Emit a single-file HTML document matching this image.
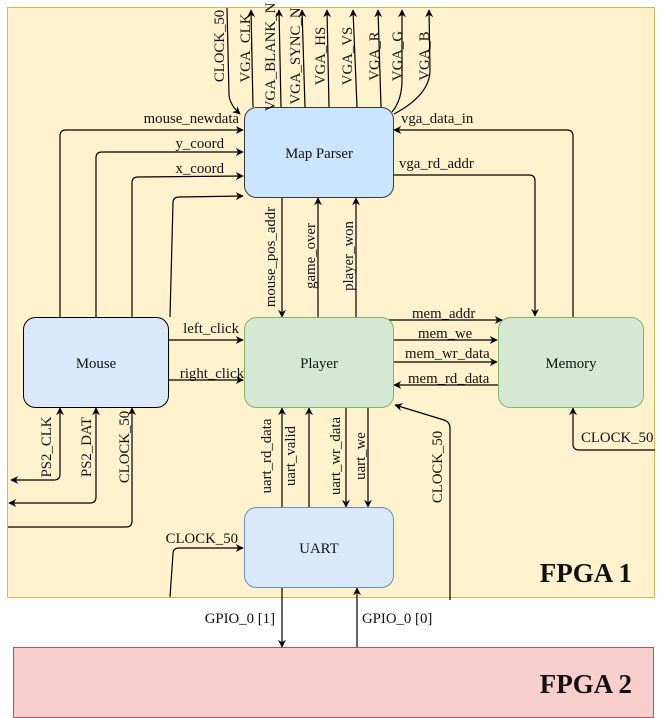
<!DOCTYPE html>
<html><head><meta charset="utf-8"><style>
html,body{margin:0;padding:0;background:#fff;}
svg{display:block;}
text{font-family:"Liberation Serif","DejaVu Serif",serif;font-size:14.8px;fill:#111;}
</style></head><body>
<svg width="669" height="718" viewBox="0 0 669 718" xmlns="http://www.w3.org/2000/svg">
<defs>
<marker id="a" viewBox="0 0 10 10" refX="9" refY="5" markerWidth="8" markerHeight="8" orient="auto-start-reverse" markerUnits="userSpaceOnUse">
<path d="M0,0 L10,5 L0,10 L3,5 z" fill="#000"/></marker>
</defs>
<rect x="7.5" y="7.5" width="647" height="590" fill="#fff2cc" stroke="#d6b656"/>
<rect x="13.5" y="647.5" width="640" height="70" fill="#f8cecc" stroke="#b85450"/>
<text x="632" y="582" text-anchor="end" style="font-size:27px;font-weight:bold">FPGA 1</text>
<text x="632" y="693" text-anchor="end" style="font-size:27px;font-weight:bold">FPGA 2</text>

<g fill="none" stroke="#000" stroke-width="1.2">
<path d="M227,8 L229,95 Q230,105 240,114" marker-end="url(#a)"/>
<path d="M253,107 L251,10" marker-end="url(#a)"/>
<path d="M281,107 L279,10" marker-end="url(#a)"/>
<path d="M305,107 L302,10" marker-end="url(#a)"/>
<path d="M329,107 L327,10" marker-end="url(#a)"/>
<path d="M357,107 L353,10" marker-end="url(#a)"/>
<path d="M381,107 L378,10" marker-end="url(#a)"/>
<path d="M392,112 Q402,100 402,80 L402,10" marker-end="url(#a)"/>
<path d="M394,114 Q430,95 430,70 L429,10" marker-end="url(#a)"/>
<path d="M60,317 L60,136 Q60,130 66,130 L243,130" marker-end="url(#a)"/>
<path d="M96,317 L96,158 Q96,152 102,152 L243,152" marker-end="url(#a)"/>
<path d="M132,317 L132,183 Q132,177 138,177 L243,176" marker-end="url(#a)"/>
<path d="M170,317 L173,203 Q173,197 179,197 L243,196" marker-end="url(#a)"/>
<path d="M282,197 L282,317" marker-end="url(#a)"/>
<path d="M318,317 L318,198" marker-end="url(#a)"/>
<path d="M356,317 L356,198" marker-end="url(#a)"/>
<path d="M573,317 L573,136 Q573,130 567,130 L394,130" marker-end="url(#a)"/>
<path d="M393,175 L529,175 Q535,175 535,181 L535,316" marker-end="url(#a)"/>
<path d="M168,340 L243,340" marker-end="url(#a)"/>
<path d="M168,380 L243,380" marker-end="url(#a)"/>
<path d="M386,320 L502,320" marker-end="url(#a)"/>
<path d="M393,340 L497,340" marker-end="url(#a)"/>
<path d="M393,362 L497,362" marker-end="url(#a)"/>
<path d="M498,385 L394,385" marker-end="url(#a)"/>
<path d="M655,450 L579,450 Q573,450 573,444 L573,408" marker-end="url(#a)"/>
<path d="M282,507 L282,408" marker-end="url(#a)"/>
<path d="M309,507 L309,408" marker-end="url(#a)"/>
<path d="M346,407 L346,507" marker-end="url(#a)"/>
<path d="M368,407 L368,507" marker-end="url(#a)"/>
<path d="M450,600 L450,428 Q450,422 444,420 L395,405" marker-end="url(#a)"/>
<path d="M60,408 L60,474 Q60,480 54,480 L11,480" marker-start="url(#a)" marker-end="url(#a)"/>
<path d="M96,408 L96,497 Q96,503 90,503 L9,503" marker-start="url(#a)" marker-end="url(#a)"/>
<path d="M132,408 L132,521 Q132,527 126,527 L8,527" marker-start="url(#a)"/>
<path d="M170,597 L173,554 Q173,548 179,548 L243,548" marker-end="url(#a)"/>
<path d="M282,587 L282,647" marker-end="url(#a)"/>
<path d="M357,647 L357,588" marker-end="url(#a)"/>
</g>

<rect x="244.5" y="107.5" width="149" height="90" rx="12" fill="#cce5ff" stroke="#36393d"/>
<text x="319" y="158" text-anchor="middle">Map Parser</text>
<rect x="23.5" y="317.5" width="145" height="90" rx="12" fill="#dae8fc" stroke="#000"/>
<text x="96" y="368" text-anchor="middle">Mouse</text>
<rect x="244.5" y="317.5" width="149" height="90" rx="12" fill="#d5e8d4" stroke="#82b366"/>
<text x="319" y="368" text-anchor="middle">Player</text>
<rect x="498.5" y="317.5" width="145" height="90" rx="12" fill="#d5e8d4" stroke="#82b366"/>
<text x="571" y="368" text-anchor="middle">Memory</text>
<rect x="244.5" y="507.5" width="149" height="80" rx="12" fill="#dae8fc" stroke="#6c8ebf"/>
<text x="319" y="553" text-anchor="middle">UART</text>

<g text-anchor="middle">
<text transform="translate(224,46) rotate(-90)">CLOCK_50</text>
<text transform="translate(250,48) rotate(-90)">VGA_CLK</text>
<text transform="translate(275,57) rotate(-90)">VGA_BLANK_N</text>
<text transform="translate(300,56) rotate(-90)">VGA_SYNC_N</text>
<text transform="translate(325,56) rotate(-90)">VGA_HS</text>
<text transform="translate(352,56) rotate(-90)">VGA_VS</text>
<text transform="translate(379,56) rotate(-90)">VGA_R</text>
<text transform="translate(402,56) rotate(-90)">VGA_G</text>
<text transform="translate(429,56) rotate(-90)">VGA_B</text>
<text transform="translate(275,257) rotate(-90)">mouse_pos_addr</text>
<text transform="translate(315,256) rotate(-90)">game_over</text>
<text transform="translate(353,256) rotate(-90)">player_won</text>
<text transform="translate(271,456) rotate(-90)">uart_rd_data</text>
<text transform="translate(295,456) rotate(-90)">uart_valid</text>
<text transform="translate(340,456) rotate(-90)">uart_wr_data</text>
<text transform="translate(365,456) rotate(-90)">uart_we</text>
<text transform="translate(442,467) rotate(-90)">CLOCK_50</text>
<text transform="translate(51,447) rotate(-90)">PS2_CLK</text>
<text transform="translate(91,447) rotate(-90)">PS2_DAT</text>
<text transform="translate(129,447) rotate(-90)">CLOCK_50</text>
</g>
<g text-anchor="end">
<text x="239" y="123">mouse_newdata</text>
<text x="224" y="148">y_coord</text>
<text x="224" y="173">x_coord</text>
<text x="239" y="333">left_click</text>
<text x="244" y="378">right_click</text>
<text x="238" y="543">CLOCK_50</text>
<text x="275" y="623">GPIO_0 [1]</text>
</g>
<text x="401" y="123">vga_data_in</text>
<text x="399" y="168">vga_rd_addr</text>
<text x="412" y="318">mem_addr</text>
<text x="418" y="338">mem_we</text>
<text x="405" y="358">mem_wr_data</text>
<text x="408" y="383">mem_rd_data</text>
<text x="581" y="442">CLOCK_50</text>
<text x="362" y="623">GPIO_0 [0]</text>
</svg>
</body></html>
